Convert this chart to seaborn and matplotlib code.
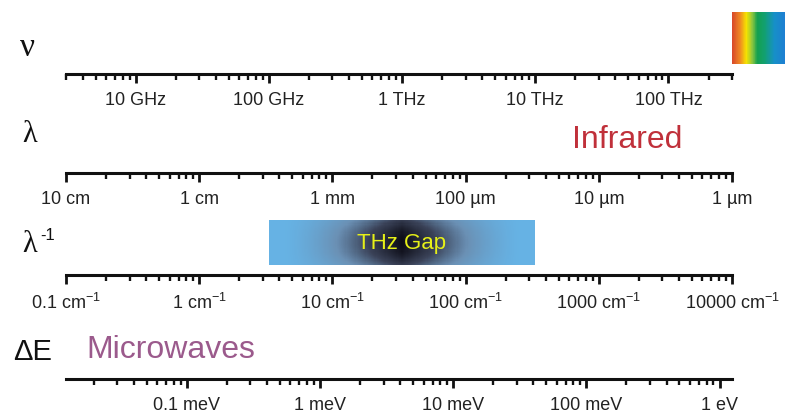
import numpy as np
import matplotlib
matplotlib.use("Agg")
import matplotlib.pyplot as plt
import seaborn as sns
from matplotlib.colors import LinearSegmentedColormap
from matplotlib.ticker import NullFormatter

# major ticks and their labels for the four scales
freq_ghz = [10, 100, 1000, 10000, 100000]
freq_labels = ["10 GHz", "100 GHz", "1 THz", "10 THz", "100 THz"]

wavelength_cm = [10, 1, 0.1, 0.01, 0.001, 0.0001]
wavelength_labels = ["10 cm", "1 cm", "1 mm", "100 µm", "10 µm", "1 µm"]

wavenumber = [0.1, 1, 10, 100, 1000, 10000]
wavenumber_labels = [r"0.1 cm$^{-1}$", r"1 cm$^{-1}$", r"10 cm$^{-1}$",
                     r"100 cm$^{-1}$", r"1000 cm$^{-1}$", r"10000 cm$^{-1}$"]

energy_mev = [0.1, 1, 10, 100, 1000]
energy_labels = ["0.1 meV", "1 meV", "10 meV", "100 meV", "1 eV"]

# shared range in wavenumbers and unit conversions
wn_range = [0.1, 10000]
ghz_per_wn = 30.0
mev_per_wn = 0.12398

# highlighted bands (GHz)
thz_gap = [100, 10000]
visible = [300000, 750000]

sns.set_style("white")
plt.rcParams["font.family"] = ["Liberation Sans", "DejaVu Sans"]
plt.rcParams["mathtext.fontset"] = "custom"
plt.rcParams["mathtext.rm"] = "Liberation Sans"
plt.rcParams["mathtext.it"] = "Liberation Sans:italic"

W_PX, H_PX = 785, 418
fig = plt.figure(figsize=(7.85, 4.18), dpi=100)
fig.patch.set_facecolor("white")

x0 = 66 / W_PX
w = (732 - 66) / W_PX


def fy(px):
    return 1 - px / H_PX


def scale_axis(y_line, lim, ticks, labels):
    ax = fig.add_axes([x0, fy(y_line), w, 0.001])
    ax.set_xscale("log")
    ax.set_xlim(lim)
    ax.set_xticks(ticks, labels)
    ax.xaxis.set_minor_formatter(NullFormatter())
    ax.set_yticks([])
    sns.despine(ax=ax, left=True, top=True, right=True)
    ax.spines["bottom"].set_linewidth(2.2)
    ax.spines["bottom"].set_color("#111111")
    ax.tick_params(axis="x", which="both", bottom=True, top=False)
    ax.tick_params(axis="x", which="major", direction="out", length=6.5,
                   width=2.0, color="#111111", pad=6.5, labelsize=13,
                   labelcolor="#222222")
    ax.tick_params(axis="x", which="minor", direction="out", length=4,
                   width=1.7, color="#111111")
    ax.patch.set_alpha(0)
    return ax


freq_lim = [wn_range[0] * ghz_per_wn, wn_range[1] * ghz_per_wn]
scale_axis(74, freq_lim, freq_ghz, freq_labels)
# wavelength scale drawn on the wavenumber positions
scale_axis(173, wn_range, [1 / l for l in wavelength_cm], wavelength_labels)
scale_axis(275, wn_range, wavenumber, wavenumber_labels)
scale_axis(379, [wn_range[0] * mev_per_wn, wn_range[1] * mev_per_wn],
           energy_mev, energy_labels)

# overlay for the coloured bands, frequency on x, pixel rows on y
ov = fig.add_axes([x0, 0, w, 1], zorder=-1)
ov.set_xscale("log")
ov.set_xlim(freq_lim)
ov.set_ylim(H_PX, 0)
ov.axis("off")

gap_cmap = LinearSegmentedColormap.from_list(
    "gap", [(0.0, "#66b2e4"), (0.3, "#6a90b4"), (0.6, "#3a4258"), (1.0, "#0c0c16")])
gx = np.geomspace(thz_gap[0], thz_gap[1], 241)
gy = np.linspace(220, 265, 41)
tc = np.log10(np.sqrt(gx[:-1] * gx[1:]) / np.sqrt(thz_gap[0] * thz_gap[1]))
sc = ((gy[:-1] + gy[1:]) / 2 - 242.5) / 22.5
T, S = np.meshgrid(tc, sc)
dark = np.clip(1 - np.abs(T) / 0.9, 0, 1) ** 1.5 * (1 - 0.35 * S ** 2)
ov.pcolormesh(gx, gy, dark, cmap=gap_cmap, vmin=0, vmax=1, shading="flat")
ov.text(np.sqrt(thz_gap[0] * thz_gap[1]), 243, "THz Gap", color="#e6f018",
        fontsize=16, ha="center", va="center")

spec_cmap = LinearSegmentedColormap.from_list(
    "spec", [(0.0, "#d8482a"), (0.15, "#f08a22"), (0.27, "#f5e400"),
             (0.38, "#8cc63e"), (0.48, "#14a050"), (0.62, "#12a070"),
             (0.8, "#1690c8"), (1.0, "#1e7fd2")])
sx = np.geomspace(visible[0], visible[1], 121)
sy = np.linspace(12, 64, 3)
spec = np.tile(np.linspace(0, 1, 120), (2, 1))
m = ov.pcolormesh(sx, sy, spec, cmap=spec_cmap, vmin=0, vmax=1, shading="flat")
m.set_clip_on(False)

# row labels
serif = ["Liberation Serif", "DejaVu Serif"]
fig.text(27 / W_PX, fy(48), "ν", family=serif, fontsize=24, ha="center",
         va="center", color="#111111")
fig.text(30 / W_PX, fy(134), "λ", family=serif, fontsize=22, ha="center",
         va="center", color="#111111")
fig.text(30 / W_PX, fy(245), "λ", family=serif, fontsize=22, ha="center",
         va="center", color="#111111")
fig.text(40 / W_PX, fy(236), "-1", fontsize=12, ha="left", va="center",
         color="#111111")
fig.text(33 / W_PX, fy(352), "ΔE", fontsize=21, ha="center", va="center",
         color="#111111")

fig.text(627 / W_PX, fy(140), "Infrared", fontsize=23, ha="center",
         va="center", color="#c0303a")
fig.text(171 / W_PX, fy(350), "Microwaves", fontsize=23, ha="center",
         va="center", color="#9b5a8c")

fig.savefig("out.png", dpi=100, facecolor="white")
